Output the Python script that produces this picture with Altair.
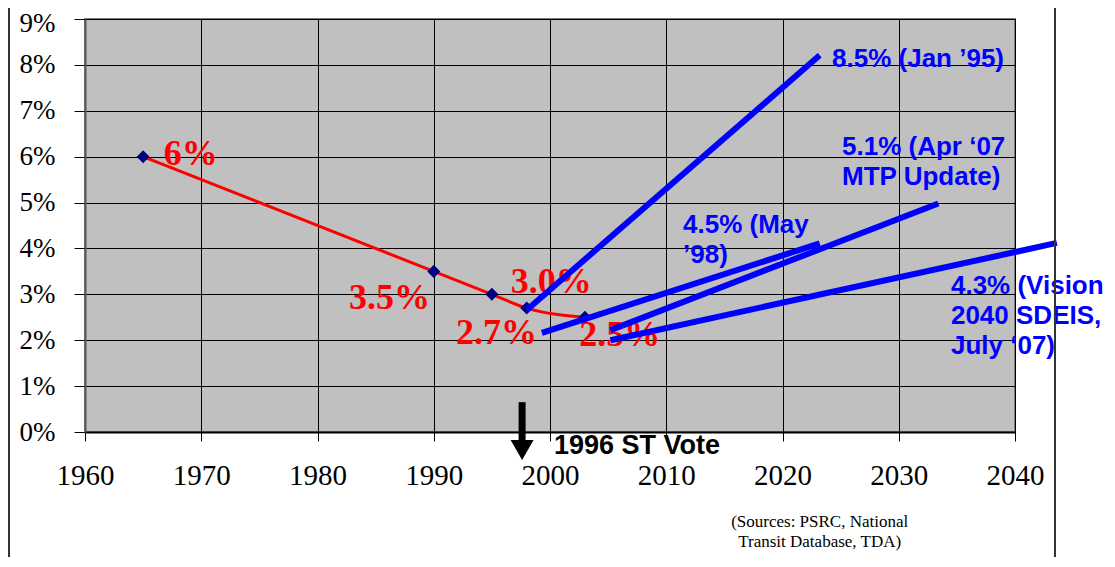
import altair as alt
import pandas as pd

# ---- data ----
hist_years = [1965, 1990, 1995, 1998, 2003]
hist_vals = [6.0, 3.5, 3.0, 2.7, 2.5]

proj_names = ["Jan '95", "May '98", "Apr '07", "Vision 2040"]
proj_x0 = [1998.0, 1999.3, 2005.2, 2005.2]
proj_y0 = [2.66, 2.16, 2.22, 2.0]
proj_x1 = [2023.2, 2023.2, 2033.4, 2043.6]
proj_y1 = [8.21, 4.11, 4.98, 4.12]

red_text = ["6%", "3.5%", "3.0%", "2.7%", "2.5%"]
red_x = [1969.1, 1986.2, 2000.1, 1995.4, 2006.0]
red_y = [5.82, 2.68, 3.03, 1.92, 1.87]

blue_text = ["8.5% (Jan \u201995)", "5.1% (Apr \u201807\nMTP Update)",
             "4.5% (May\n\u201998)", "4.3% (Vision\n2040 SDEIS,\nJuly \u201807)"]
blue_x = [2024.26, 2025.12, 2011.44, 2034.49]
blue_y = [7.95, 6.04, 4.34, 3.01]

vote_text = ["1996 ST Vote"]
vote_x = [2000.34]
vote_y = [-0.47]
arrow_x = [1997.6]
arrow_top = [0.65]
arrow_bottom = [-0.22]
arrow_head = [-0.39]

src_text = ["(Sources: PSRC, National\nTransit Database, TDA)"]
src_x = [2023.2]
src_y = [-2.07]

x_ticks = [1960, 1970, 1980, 1990, 2000, 2010, 2020, 2030, 2040]
y_ticks = [0, 1, 2, 3, 4, 5, 6, 7, 8, 9]

# ---- tables ----
hist = pd.DataFrame({"year": hist_years, "val": hist_vals})
proj = pd.DataFrame({"name": proj_names, "x0": proj_x0, "y0": proj_y0, "x1": proj_x1, "y1": proj_y1})
red = pd.DataFrame({"t": red_text, "x": red_x, "y": red_y})
blue = pd.DataFrame({"t": blue_text, "x": blue_x, "y": blue_y})
vote = pd.DataFrame({"t": vote_text, "x": vote_x, "y": vote_y})
arrow = pd.DataFrame({"x": arrow_x, "y0": arrow_top, "y1": arrow_bottom, "yh": arrow_head})
src = pd.DataFrame({"t": src_text, "x": src_x, "y": src_y})
one = pd.DataFrame({"a": [0]})

xs = alt.Scale(domain=[1960, 2040], nice=False, zero=False)
ys = alt.Scale(domain=[0, 9], nice=False, zero=True)

x_axis = alt.Axis(values=x_ticks, format="d", title=None, grid=True, gridColor="black", gridWidth=1,
                  tickSize=9, tickColor="black", domainColor="black", domainWidth=2,
                  labelFont="Liberation Serif", labelFontSize=29, labelColor="black", labelPadding=20,
                  labelFlush=False, labelOverlap=False)
y_axis = alt.Axis(values=y_ticks, labelExpr="datum.value + '%'", title=None, grid=True, gridColor="black",
                  gridWidth=1, tickSize=11, tickColor="black", domainColor="#555555", domainWidth=2,
                  labelFont="Liberation Serif", labelFontSize=27, labelColor="black", labelPadding=19,
                  labelOffset={"condition": {"test": "datum.value == 9", "value": 4}, "value": 0})

base_line = alt.Chart(hist).mark_line(color="#FF0000", strokeWidth=3, interpolate="monotone").encode(
    x=alt.X("year:Q", scale=xs, axis=x_axis),
    y=alt.Y("val:Q", scale=ys, axis=y_axis),
)
diamonds = alt.Chart(hist).mark_point(shape="diamond", filled=True, color="#000080", size=170, opacity=1).encode(
    x=alt.X("year:Q", scale=xs), y=alt.Y("val:Q", scale=ys))

red_labels = alt.Chart(red).mark_text(font="Liberation Serif", fontSize=36, fontWeight="bold", color="#FF0000",
                                      align="center", baseline="alphabetic").encode(
    x=alt.X("x:Q", scale=xs), y=alt.Y("y:Q", scale=ys), text="t:N")

proj_lines = alt.Chart(proj).mark_rule(color="#0000FF", strokeWidth=6, strokeCap="butt").encode(
    x=alt.X("x0:Q", scale=xs), y=alt.Y("y0:Q", scale=ys), x2="x1:Q", y2="y1:Q")

blue_labels = alt.Chart(blue).mark_text(font="Liberation Sans", fontSize=26, fontWeight="bold", color="#0000FF",
                                        align="left", baseline="alphabetic", lineBreak="\n", lineHeight=30).encode(
    x=alt.X("x:Q", scale=xs), y=alt.Y("y:Q", scale=ys), text="t:N")

vote_label = alt.Chart(vote).mark_text(font="Liberation Sans", fontSize=27, fontWeight="bold", color="black",
                                       align="left", baseline="alphabetic").encode(
    x=alt.X("x:Q", scale=xs), y=alt.Y("y:Q", scale=ys), text="t:N")

arrow_shaft = alt.Chart(arrow).mark_rule(color="black", strokeWidth=7, strokeCap="butt").encode(
    x=alt.X("x:Q", scale=xs), y=alt.Y("y0:Q", scale=ys), y2="y1:Q")
arrow_tip = alt.Chart(arrow).mark_point(shape="M-1,-0.87L1,-0.87L0,0.87Z", filled=True, color="black",
                                        size=529, opacity=1).encode(
    x=alt.X("x:Q", scale=xs), y=alt.Y("yh:Q", scale=ys))

src_label = alt.Chart(src).mark_text(font="Liberation Serif", fontSize=17, color="black", align="center",
                                     baseline="alphabetic", lineBreak="\n", lineHeight=20).encode(
    x=alt.X("x:Q", scale=xs), y=alt.Y("y:Q", scale=ys), text="t:N")

left_border = alt.Chart(one).mark_rule(color="#333333", strokeWidth=2).encode(
    x=alt.value(-76), y=alt.value(-11), y2=alt.value(538))
right_border = alt.Chart(one).mark_rule(color="#333333", strokeWidth=2).encode(
    x=alt.value(970), y=alt.value(-11), y2=alt.value(538))

chart = alt.layer(
    base_line, diamonds, red_labels, proj_lines, blue_labels, vote_label, arrow_shaft, arrow_tip,
    src_label, left_border, right_border
).properties(
    width=930, height=413,
    padding={"left": 77, "top": 11, "right": 90, "bottom": 127},
    autosize=alt.AutoSizeParams(type="none"),
    background="white",
).configure_view(stroke="#808080", strokeWidth=2, fill="#C0C0C0")

chart.save("out.html", embed_options={"renderer": "svg", "actions": False})
